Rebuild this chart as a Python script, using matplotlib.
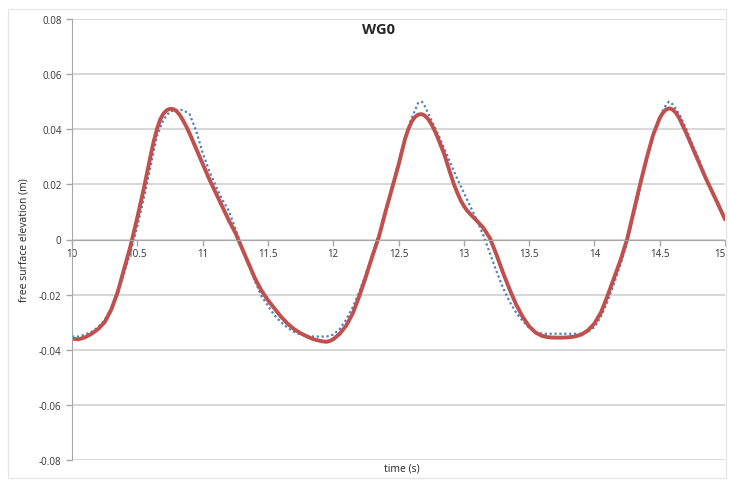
import matplotlib.pyplot as plt
import numpy as np

# time (s) and free surface elevation (m)
t_meas = [10.00, 10.05, 10.10, 10.15, 10.20, 10.25, 10.30, 10.35, 10.40, 10.45,
          10.50, 10.55, 10.60, 10.65, 10.70, 10.75, 10.80, 10.85, 10.90, 10.95,
          11.00, 11.05, 11.10, 11.15, 11.20, 11.25, 11.30, 11.35, 11.40, 11.45,
          11.50, 11.55, 11.60, 11.65, 11.70, 11.75, 11.80, 11.85, 11.90, 11.95,
          12.00, 12.05, 12.10, 12.15, 12.20, 12.25, 12.30, 12.35, 12.40, 12.45,
          12.50, 12.55, 12.60, 12.65, 12.68, 12.70, 12.75, 12.80, 12.85, 12.90,
          12.95, 13.00, 13.05, 13.10, 13.15, 13.20, 13.25, 13.30, 13.35, 13.40,
          13.45, 13.50, 13.55, 13.60, 13.65, 13.70, 13.75, 13.80, 13.85, 13.90,
          13.95, 14.00, 14.05, 14.10, 14.15, 14.20, 14.25, 14.30, 14.35, 14.40,
          14.45, 14.50, 14.55, 14.57, 14.60, 14.65, 14.70, 14.75, 14.80, 14.85,
          14.90, 14.95, 15.00]
eta_meas = [-0.0352, -0.0352, -0.0345, -0.0335, -0.0318, -0.0292, -0.0250, -0.0192, -0.0120, -0.0042,
            0.0048, 0.0150, 0.0262, 0.0375, 0.0435, 0.0465, 0.0470, 0.0470, 0.0455, 0.0395,
            0.0315, 0.0250, 0.0195, 0.0145, 0.0105, 0.0040, -0.0025, -0.0090, -0.0150, -0.0205,
            -0.0240, -0.0275, -0.0300, -0.0320, -0.0335, -0.0345, -0.0350, -0.0352, -0.0352, -0.0352,
            -0.0345, -0.0325, -0.0290, -0.0245, -0.0190, -0.0125, -0.0055, 0.0020, 0.0105, 0.0190,
            0.0280, 0.0370, 0.0440, 0.0495, 0.0500, 0.0485, 0.0435, 0.0385, 0.0330, 0.0275,
            0.0220, 0.0170, 0.0120, 0.0070, 0.0015, -0.0050, -0.0115, -0.0175, -0.0225, -0.0265,
            -0.0295, -0.0320, -0.0335, -0.0342, -0.0342, -0.0342, -0.0342, -0.0342, -0.0342, -0.0342,
            -0.0335, -0.0318, -0.0280, -0.0225, -0.0160, -0.0090, -0.0010, 0.0085, 0.0190, 0.0290,
            0.0380, 0.0445, 0.0490, 0.0500, 0.0490, 0.0455, 0.0405, 0.0345, 0.0290, 0.0230,
            0.0180, 0.0125, 0.0075]

t_model = [10.00, 10.05, 10.10, 10.15, 10.20, 10.25, 10.30, 10.35, 10.40, 10.45,
           10.50, 10.55, 10.60, 10.625, 10.65, 10.675, 10.70, 10.725, 10.75, 10.775,
           10.80, 10.825, 10.85, 10.875, 10.90, 10.95,
           11.00, 11.05, 11.10, 11.15, 11.20, 11.25, 11.30, 11.35, 11.40, 11.45,
           11.50, 11.55, 11.60, 11.65, 11.70, 11.75, 11.80, 11.85, 11.90, 11.925,
           11.95, 11.975, 12.00, 12.05, 12.10, 12.15, 12.20, 12.25, 12.30, 12.35,
           12.40, 12.45, 12.50, 12.55, 12.575, 12.60, 12.625, 12.65, 12.675, 12.70,
           12.725, 12.75, 12.775, 12.80, 12.85, 12.90, 12.925, 12.95, 12.975, 13.00,
           13.025, 13.05, 13.10, 13.15, 13.20, 13.25, 13.30, 13.35, 13.40, 13.45,
           13.50, 13.55, 13.60, 13.65, 13.70, 13.75, 13.80, 13.85, 13.90, 13.95,
           14.00, 14.05, 14.10, 14.15, 14.20, 14.25, 14.30, 14.35, 14.40, 14.45,
           14.50, 14.525, 14.55, 14.575, 14.60, 14.625, 14.65, 14.70, 14.75, 14.80,
           14.85, 14.90, 14.95, 15.00]
eta_model = [-0.0360, -0.0362, -0.0355, -0.0342, -0.0325, -0.0300, -0.0255, -0.0190, -0.0105, -0.0020,
             0.0080, 0.0185, 0.0300, 0.0355, 0.0400, 0.0435, 0.0457, 0.0469, 0.0474, 0.0473,
             0.0466, 0.0452, 0.0432, 0.0410, 0.0385, 0.0330,
             0.0275, 0.0220, 0.0170, 0.0120, 0.0070, 0.0025, -0.0030, -0.0085, -0.0140, -0.0185,
             -0.0220, -0.0250, -0.0280, -0.0305, -0.0325, -0.0340, -0.0352, -0.0362, -0.0368, -0.0370,
             -0.0371, -0.0368, -0.0362, -0.0342, -0.0312, -0.0268, -0.0205, -0.0135, -0.0060, 0.0010,
             0.0100, 0.0185, 0.0270, 0.0365, 0.0400, 0.0427, 0.0444, 0.0453, 0.0455, 0.0450,
             0.0438, 0.0420, 0.0397, 0.0370, 0.0310, 0.0235, 0.0200, 0.0170, 0.0143, 0.0122,
             0.0105, 0.0092, 0.0068, 0.0042, 0.0005, -0.0055, -0.0120, -0.0180, -0.0235, -0.0280,
             -0.0315, -0.0338, -0.0350, -0.0355, -0.0356, -0.0356, -0.0355, -0.0352, -0.0345, -0.0330,
             -0.0305, -0.0265, -0.0205, -0.0140, -0.0075, 0.0000, 0.0100, 0.0200, 0.0295, 0.0380,
             0.0440, 0.0460, 0.0472, 0.0476, 0.0471, 0.0459, 0.0440, 0.0390, 0.0335, 0.0280,
             0.0225, 0.0175, 0.0125, 0.0073]

xticks = [10, 10.5, 11, 11.5, 12, 12.5, 13, 13.5, 14, 14.5, 15]
xtick_labels = ['10', '10.5', '11', '11.5', '12', '12.5', '13', '13.5', '14', '14.5', '15']
yticks = [-0.08, -0.06, -0.04, -0.02, 0, 0.02, 0.04, 0.06, 0.08]
ytick_labels = ['-0.08', '-0.06', '-0.04', '-0.02', '0', '0.02', '0.04', '0.06', '0.08']

plt.rcParams['font.family'] = ['Open Sans', 'DejaVu Sans']

fig = plt.figure(figsize=(7.29, 4.81), dpi=100)
# faint chart-area frame like in excel
fig.patches.append(plt.Rectangle((0.011, 0.004), 0.985, 0.975, transform=fig.transFigure,
                                 fill=False, edgecolor='#e6e6e6', linewidth=1))
ax = fig.add_axes([0.0988, 0.0416, 0.8957, 0.9168])

ax.plot(t_meas, eta_meas, color='#4F81BD', linestyle=(0, (1, 1.2)), linewidth=1.6)
ax.plot(t_model, eta_model, color='#C0504D', linewidth=2.8, solid_capstyle='round',
        solid_joinstyle='round')

ax.set_xlim(10, 15)
ax.set_ylim(-0.08, 0.08)
ax.set_yticks(yticks)
ax.set_yticklabels(ytick_labels)
ax.set_xticks(xticks)
ax.set_xticklabels(xtick_labels)
ax.yaxis.grid(True, color='#d4d4d4', linewidth=1.3)
ax.set_axisbelow(True)

ax.spines['top'].set_visible(False)
ax.spines['right'].set_visible(False)
ax.spines['bottom'].set_position(('data', 0))
ax.spines['bottom'].set_color('#a6a6a6')
ax.spines['left'].set_color('#a6a6a6')
ax.tick_params(axis='both', colors='#a6a6a6', length=4, width=1, labelsize=7, labelcolor='#333333')
ax.tick_params(axis='x', pad=2)

ax.set_title('WG0', fontsize=10.5, fontweight='bold', color='#262626', y=0.95, x=0.47)
ax.set_xlabel('time (s)', fontsize=7.5, color='#262626', labelpad=1)
ax.xaxis.set_label_coords(0.505, -0.005)
ax.set_ylabel('free surface elevation (m)', fontsize=7.5, color='#262626')
ax.yaxis.set_label_coords(-0.065, 0.5)

# keep the last x label ("15") inside the picture
fig.canvas.draw()
ax.xaxis.get_major_ticks()[-1].label1.set_horizontalalignment('right')

plt.savefig('out.png', dpi=100)
